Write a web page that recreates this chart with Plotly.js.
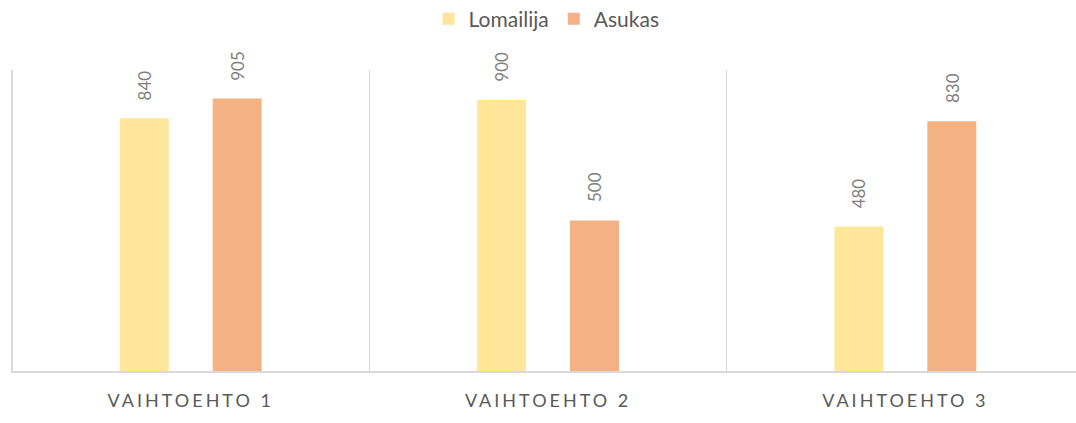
<!DOCTYPE html>
<html>
<head>
<meta charset="utf-8">
<script src="https://cdn.plot.ly/plotly-3.0.1.min.js"></script>
<style>
html,body{margin:0;padding:0;background:#fff;}
#chart{width:1076px;height:423px;}
.xtick text{letter-spacing:3px;}
</style>
</head>
<body>
<div id="chart"></div>
<script>
const categories = ["VAIHTOEHTO 1", "VAIHTOEHTO 2", "VAIHTOEHTO 3"];
const seriesNames = ["Lomailija", "Asukas"];
const lomailija = [840, 900, 480];
const asukas = [905, 500, 830];
const colors = ["#FFE699", "#F4B183"];

const values = [lomailija, asukas];
const traces = values.map((v, s) => ({
  type: "bar",
  name: seriesNames[s],
  x: categories,
  y: v,
  marker: {color: colors[s]},
  hoverinfo: "none"
}));

const annotations = [];
values.forEach((v, s) => {
  v.forEach((val, i) => {
    annotations.push({
      x: categories[i], y: val, xref: "x", yref: "y",
      text: String(val), showarrow: false, textangle: -90,
      xshift: s === 0 ? -46.5 : 46.5, yshift: 16,
      xanchor: "center", yanchor: "bottom",
      font: {family: "Lato, 'Open Sans', sans-serif", size: 17, color: "#7f7f7f"}
    });
  });
});

const layout = {
  width: 1076, height: 423,
  margin: {l: 11, r: 0, t: 70, b: 52},
  paper_bgcolor: "#fff", plot_bgcolor: "#fff",
  barmode: "group", bargap: 0.48, bargroupgap: 0.473,
  showlegend: true,
  legend: {orientation: "h", x: 0.508, xanchor: "center", xref: "container",
    y: 1 - 19/423, yanchor: "middle", yref: "container",
    font: {family: "Lato, 'Open Sans', sans-serif", size: 21, color: "#595959"},
    itemwidth: 30, tracegroupgap: 0},
  xaxis: {
    type: "category",
    range: [-0.503, 2.5 - 8/357.5],
    tickson: "boundaries", showgrid: true, gridcolor: "#d9d9d9", gridwidth: 1.5,
    ticks: "", ticklabelstandoff: 13, showline: true, linecolor: "#d9d9d9", linewidth: 1.5,
    tickfont: {family: "Lato, 'Open Sans', sans-serif", size: 18, color: "#595959"},
    zeroline: false
  },
  yaxis: {range: [0, 1000], showgrid: false, showticklabels: false, zeroline: false, showline: false, ticks: ""},
  annotations: annotations,
  font: {family: "Lato, 'Open Sans', sans-serif"}
};

Plotly.newPlot("chart", traces, layout, {displayModeBar: false, staticPlot: true});
</script>
</body>
</html>
